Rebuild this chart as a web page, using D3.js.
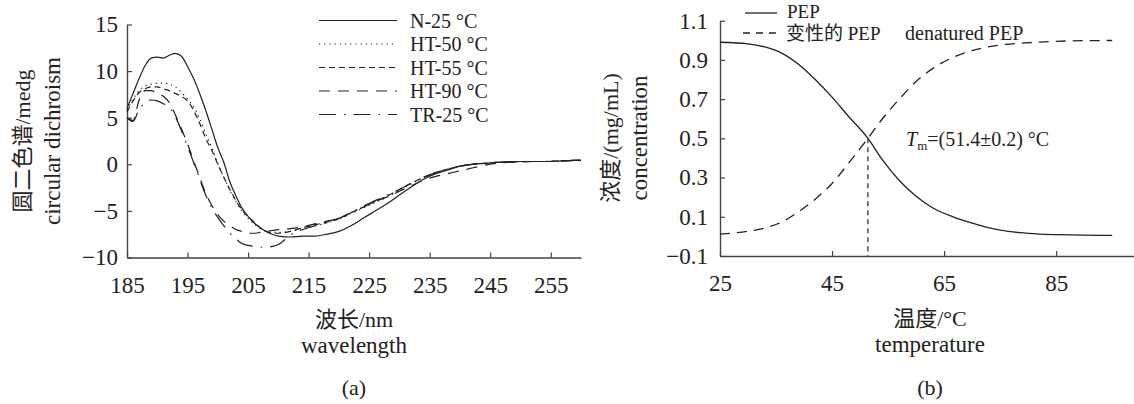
<!DOCTYPE html>
<html>
<head>
<meta charset="utf-8">
<script src="https://cdn.jsdelivr.net/npm/d3@7"></script>
<style>
  html, body { margin: 0; padding: 0; background: #fff; }
  svg text { font-family: "Liberation Serif", "Noto Sans CJK SC", serif; fill: #222; }
</style>
</head>
<body>
<svg id="chart" width="1134" height="404"></svg>
<script>
// ---------- Panel (a): CD spectra ----------
const wavelengths = [185,186,187,188,189,190,191,192,193,194,195,196,197,198,199,200,201,202,203,204,205,206,207,208,209,210,212,214,216,218,220,222,224,226,228,230,232,234,236,238,240,242,244,246,248,250,252,254,256,258,260];
const n25  = [6.0,7.6,9.2,10.6,11.4,11.5,11.4,11.7,11.9,11.6,10.5,9.2,7.6,5.8,3.8,1.8,0.2,-1.9,-3.4,-4.7,-5.6,-6.3,-6.8,-7.2,-7.5,-7.7,-7.8,-7.7,-7.7,-7.5,-7.2,-6.6,-5.8,-5.0,-4.2,-3.3,-2.4,-1.6,-1.0,-0.6,-0.2,0.0,0.1,0.2,0.25,0.3,0.3,0.3,0.35,0.4,0.45];
const ht50 = [5.8,7.0,7.9,8.4,8.6,8.7,8.7,8.6,8.3,7.7,7.0,6.2,4.9,3.3,1.8,0.1,-1.4,-2.8,-4.0,-5.0,-5.8,-6.4,-6.9,-7.2,-7.3,-7.3,-7.2,-6.9,-6.6,-6.3,-5.9,-5.3,-4.7,-4.1,-3.5,-2.8,-2.1,-1.4,-0.9,-0.5,-0.2,0.0,0.1,0.2,0.25,0.3,0.3,0.3,0.35,0.4,0.45];
const ht55 = [5.6,6.8,7.7,8.1,8.3,8.3,8.1,7.9,7.6,7.3,6.8,5.8,4.4,2.8,1.5,0.0,-1.4,-2.7,-3.9,-4.9,-5.6,-6.2,-6.8,-7.2,-7.4,-7.4,-7.2,-6.8,-6.5,-6.2,-5.8,-5.2,-4.6,-4.0,-3.4,-2.7,-2.0,-1.4,-0.9,-0.5,-0.2,0.0,0.1,0.2,0.25,0.3,0.3,0.3,0.35,0.4,0.45];
const ht90 = [5.0,4.7,6.9,7.9,7.9,7.6,7.3,6.6,5.3,3.8,2.2,0.4,-1.4,-3.1,-4.4,-5.4,-6.1,-6.6,-7.0,-7.2,-7.4,-7.4,-7.3,-7.2,-7.1,-7.0,-6.9,-6.7,-6.4,-6.1,-5.8,-5.2,-4.6,-4.0,-3.5,-2.9,-2.3,-1.7,-1.3,-1.0,-0.7,-0.4,-0.1,0.1,0.2,0.25,0.3,0.3,0.35,0.4,0.4];
const tr25 = [5.0,4.6,5.9,6.6,6.9,6.8,6.5,6.1,5.1,3.6,1.9,0.2,-1.6,-3.3,-4.7,-5.7,-6.6,-7.4,-8.0,-8.5,-8.7,-8.8,-8.9,-8.9,-8.8,-8.6,-7.6,-7.0,-6.6,-6.2,-5.8,-5.2,-4.5,-3.9,-3.3,-2.7,-2.0,-1.4,-0.9,-0.5,-0.2,0.0,0.1,0.2,0.25,0.3,0.3,0.3,0.35,0.4,0.45];
const seriesNamesA = ["N-25 °C","HT-50 °C","HT-55 °C","HT-90 °C","TR-25 °C"];
const xTicksA = [185,195,205,215,225,235,245,255];
const yTicksA = [-10,-5,0,5,10,15];

// ---------- Panel (b): thermal denaturation ----------
const temps     = [25,30,33,36,39,42,45,48,51.4,54,57,60,63,66.6,70,72.5,75,78.5,82,85,90,95];
const pep       = [0.99,0.982,0.966,0.935,0.878,0.80,0.71,0.61,0.50,0.39,0.285,0.205,0.145,0.10,0.068,0.047,0.032,0.019,0.012,0.009,0.006,0.005];
const denatured = [0.012,0.026,0.043,0.073,0.125,0.19,0.27,0.375,0.50,0.60,0.70,0.79,0.857,0.913,0.947,0.965,0.976,0.985,0.991,0.995,0.998,0.999];
const tmValue = 51.4;
const tmLabel = "=(51.4±0.2) °C";
const xTicksB = [25,45,65,85];
const yTicksB = [-0.1,0.1,0.3,0.5,0.7,0.9,1.1];

const svg = d3.select("#chart");
const ink = "#222";
const axisColor = "#444";
const serif = "'Liberation Serif', 'Noto Sans CJK SC', serif";

function styleAxis(g) {
  g.attr("font-family", null);
  g.select(".domain").attr("stroke", axisColor).attr("stroke-width", 1.4);
  g.selectAll(".tick line").attr("stroke", axisColor).attr("stroke-width", 1.2);
  g.selectAll(".tick text").attr("fill", ink)
    .style("font-family", serif).style("font-size", "23px");
}

// ===== Panel (a) =====
const xA = d3.scaleLinear().domain([185, 260]).range([127, 581]);
const yA = d3.scaleLinear().domain([-10, 15]).range([257.5, 24.5]);

svg.append("g").attr("transform", `translate(0,${yA(-10)})`)
  .call(d3.axisBottom(xA).tickValues(xTicksA).tickSize(-5).tickSizeOuter(0).tickPadding(19).tickFormat(d3.format("d")))
  .call(styleAxis);
svg.append("g").attr("transform", `translate(${xA(185)},0)`)
  .call(d3.axisLeft(yA).tickValues(yTicksA).tickSize(-5).tickSizeOuter(0).tickPadding(9)
    .tickFormat(d => d < 0 ? "\u2212" + Math.abs(d) : String(d)))
  .call(styleAxis);

const seriesA = [n25, ht50, ht55, ht90, tr25];
const dashA = [null, "1.2,4", "6,4", "11,8", "17,8,1.5,8"];
const lineA = d3.line().x((d, i) => xA(wavelengths[i])).y(d => yA(d)).curve(d3.curveMonotoneX);

seriesA.forEach((s, k) => {
  svg.append("path").datum(s)
    .attr("d", lineA)
    .attr("fill", "none")
    .attr("stroke", ink)
    .attr("stroke-width", 1.2)
    .attr("stroke-dasharray", dashA[k]);
});

// legend (a)
const legA = svg.append("g");
seriesNamesA.forEach((name, k) => {
  const y = 20.5 + k * 23.5;
  legA.append("line").attr("x1", 319).attr("x2", 397).attr("y1", y).attr("y2", y)
    .attr("stroke", ink).attr("stroke-width", 1.2).attr("stroke-dasharray", dashA[k]);
  legA.append("text").attr("x", 410).attr("y", y + 7).style("font-size", "20px").text(name);
});

// axis titles (a)
svg.append("text").attr("transform", "translate(30,141) rotate(-90)")
  .attr("text-anchor", "middle").style("font-size", "22px").text("圆二色谱/medg");
svg.append("text").attr("transform", "translate(60,141) rotate(-90)")
  .attr("text-anchor", "middle").style("font-size", "23px").text("circular dichroism");
svg.append("text").attr("x", 354).attr("y", 327).attr("text-anchor", "middle").style("font-size", "22px").text("波长/nm");
svg.append("text").attr("x", 354).attr("y", 353).attr("text-anchor", "middle").style("font-size", "23px").text("wavelength");
svg.append("text").attr("x", 354).attr("y", 395).attr("text-anchor", "middle").style("font-size", "22px").text("(a)");

// ===== Panel (b) =====
const xB = d3.scaleLinear().domain([25, 99]).range([720, 1134.6]);
const yB = d3.scaleLinear().domain([-0.1, 1.1]).range([256, 20.7]);

svg.append("g").attr("transform", `translate(0,${yB(-0.1)})`)
  .call(d3.axisBottom(xB).tickValues(xTicksB).tickSize(-5).tickSizeOuter(0).tickPadding(19).tickFormat(d3.format("d")))
  .call(styleAxis);
svg.append("g").attr("transform", `translate(${xB(25)},0)`)
  .call(d3.axisLeft(yB).tickValues(yTicksB).tickSize(-5).tickSizeOuter(0).tickPadding(12)
    .tickFormat(d => d < 0 ? "\u2212" + Math.abs(d).toFixed(1) : d.toFixed(1)))
  .call(styleAxis);

const lineB = d3.line().x((d, i) => xB(temps[i])).y(d => yB(d)).curve(d3.curveMonotoneX);
svg.append("path").datum(pep).attr("d", lineB).attr("fill", "none")
  .attr("stroke", ink).attr("stroke-width", 1.3);
svg.append("path").datum(denatured).attr("d", lineB).attr("fill", "none")
  .attr("stroke", ink).attr("stroke-width", 1.3).attr("stroke-dasharray", "10,7");

// Tm marker
svg.append("line").attr("x1", xB(tmValue)).attr("x2", xB(tmValue))
  .attr("y1", yB(0.5)).attr("y2", yB(-0.1))
  .attr("stroke", "#333").attr("stroke-width", 1.3).attr("stroke-dasharray", "5,4");
const tm = svg.append("text").attr("x", 906).attr("y", 146).style("font-size", "20px");
tm.append("tspan").attr("font-style", "italic").text("T");
tm.append("tspan").style("font-size", "13px").attr("dy", 4).text("m");
tm.append("tspan").attr("dy", -4).text(tmLabel);

// legend (b)
svg.append("line").attr("x1", 745).attr("x2", 777).attr("y1", 13).attr("y2", 13)
  .attr("stroke", ink).attr("stroke-width", 1.3);
svg.append("text").attr("x", 787).attr("y", 18).style("font-size", "19px").text("PEP");
svg.append("line").attr("x1", 743).attr("x2", 779).attr("y1", 33).attr("y2", 33)
  .attr("stroke", ink).attr("stroke-width", 1.3).attr("stroke-dasharray", "7,6");
svg.append("text").attr("x", 786).attr("y", 39.5).style("font-size", "19px").text("变性的 PEP");
svg.append("text").attr("x", 905).attr("y", 39.5).style("font-size", "20px").text("denatured PEP");

// axis titles (b)
svg.append("text").attr("transform", "translate(618,138) rotate(-90)")
  .attr("text-anchor", "middle").style("font-size", "22px").text("浓度/(mg/mL)");
svg.append("text").attr("transform", "translate(647,138) rotate(-90)")
  .attr("text-anchor", "middle").style("font-size", "23px").text("concentration");
svg.append("text").attr("x", 930).attr("y", 326).attr("text-anchor", "middle").style("font-size", "22px").text("温度/°C");
svg.append("text").attr("x", 930).attr("y", 352).attr("text-anchor", "middle").style("font-size", "23px").text("temperature");
svg.append("text").attr("x", 930).attr("y", 395).attr("text-anchor", "middle").style("font-size", "22px").text("(b)");
</script>
</body>
</html>
